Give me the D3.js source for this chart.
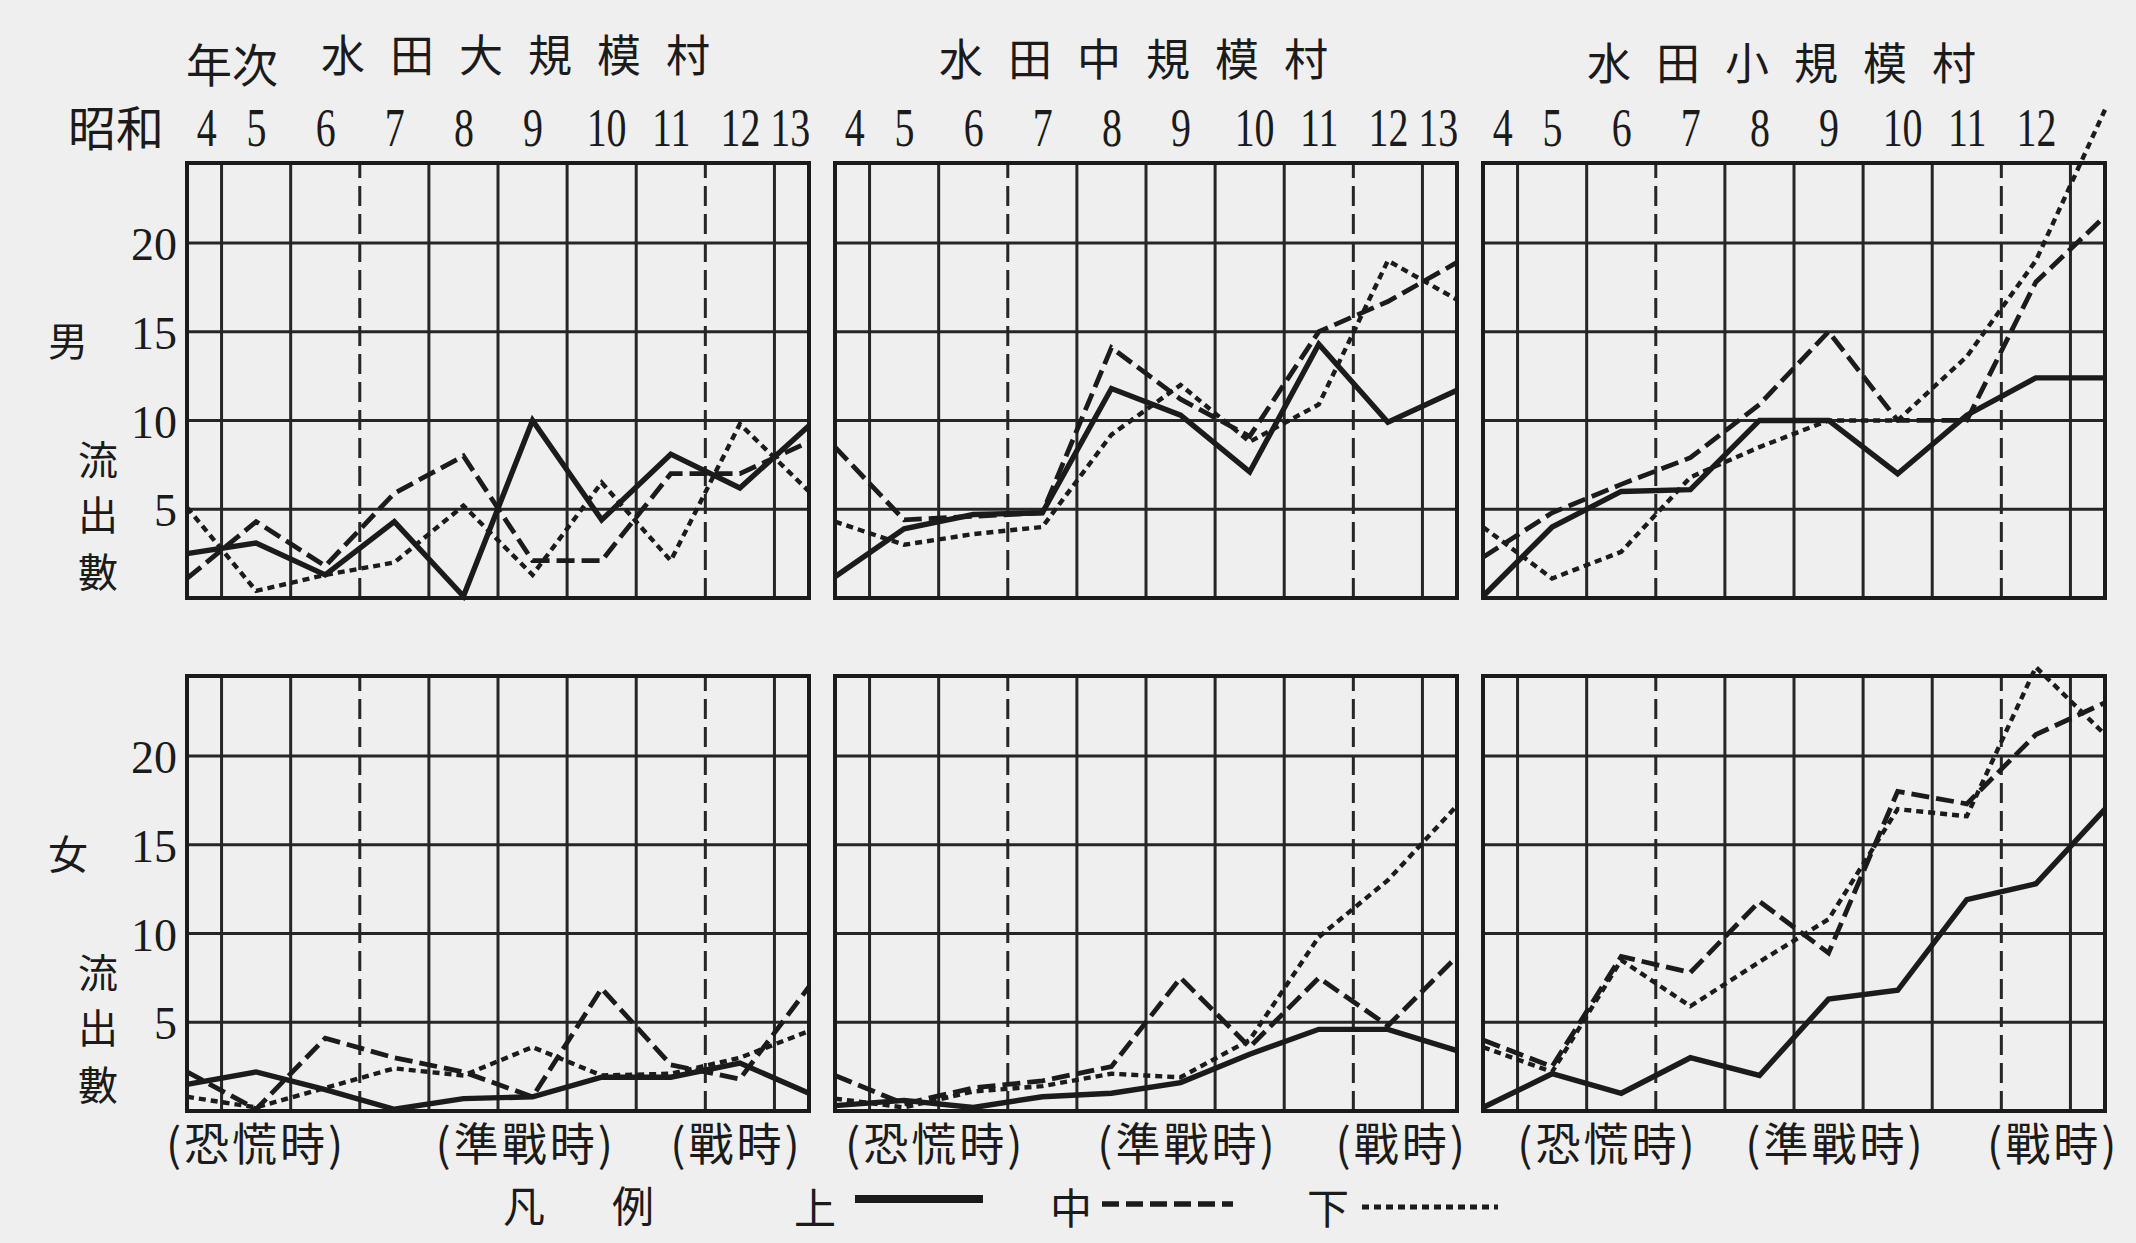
<!DOCTYPE html>
<html>
<head>
<meta charset="utf-8">
<script src="https://cdn.jsdelivr.net/npm/d3@7"></script>
<style>
  html, body { margin: 0; padding: 0; background: #efefef; }
  svg { display: block; }
</style>
</head>
<body>
<svg id="chart" width="2136" height="1243"></svg>
<script>
// ---- data -------------------------------------------------------------
const years = [4, 5, 6, 7, 8, 9, 10, 11, 12, 13];
const yearLabels = ['4', '5', '6', '7', '8', '9', '10', '11', '12', '13'];
const villageTitles = ['水田大規模村', '水田中規模村', '水田小規模村'];
const periodLabels = ['(恐慌時)', '(準戰時)', '(戰時)'];
const classNames = ['上', '中', '下'];
const yTicks = [5, 10, 15, 20];
const rowLabels = ['男', '女'];
const unitLabel = ['流', '出', '數'];

// 男 流出數
const maleLargeUpper  = [2.5, 3.1, 1.3, 4.3, 0.1, 10.0, 4.4, 8.1, 6.2, 9.7];
const maleLargeMiddle = [1.1, 4.3, 1.8, 5.9, 8.0, 2.1, 2.1, 7.0, 7.0, 8.8];
const maleLargeLower  = [5.1, 0.4, 1.3, 2.0, 5.2, 1.3, 6.5, 2.1, 9.8, 6.0];

const maleMidUpper    = [1.2, 3.9, 4.7, 4.8, 11.8, 10.3, 7.1, 14.3, 9.9, 11.7];
const maleMidMiddle   = [8.5, 4.4, 4.6, 4.8, 14.1, 11.2, 9.1, 15.0, 16.7, 18.9];
const maleMidLower    = [4.3, 3.0, 3.6, 4.0, 9.2, 12.0, 8.8, 10.9, 19.0, 16.8];

const maleSmallUpper  = [0.1, 4.0, 6.0, 6.1, 10.0, 10.0, 7.0, 10.3, 12.4, 12.4];
const maleSmallMiddle = [2.3, 4.8, 6.4, 7.9, 10.9, 15.0, 10.0, 10.0, 17.8, 21.5];
const maleSmallLower  = [4.0, 1.1, 2.6, 6.8, 8.5, 10.0, 10.0, 13.6, 19.0, 27.5];

// 女 流出數
const femaleLargeUpper  = [1.5, 2.2, 1.2, 0.1, 0.7, 0.8, 1.9, 1.9, 2.7, 1.0];
const femaleLargeMiddle = [2.2, 0.1, 4.1, 3.0, 2.2, 0.8, 6.9, 2.6, 1.8, 7.0];
const femaleLargeLower  = [0.8, 0.2, 1.3, 2.4, 2.0, 3.6, 2.0, 2.1, 3.0, 4.5];

const femaleMidUpper    = [0.3, 0.6, 0.2, 0.8, 1.0, 1.6, 3.2, 4.6, 4.6, 3.4];
const femaleMidMiddle   = [2.0, 0.4, 1.3, 1.7, 2.5, 7.5, 3.6, 7.5, 4.8, 8.7];
const femaleMidLower    = [0.7, 0.2, 1.1, 1.4, 2.1, 1.9, 4.0, 9.8, 13.0, 17.2];

const femaleSmallUpper  = [0.2, 2.1, 1.0, 3.0, 2.0, 6.3, 6.8, 11.9, 12.8, 17.0];
const femaleSmallMiddle = [4.0, 2.5, 8.7, 7.8, 11.8, 8.9, 18.0, 17.3, 21.2, 23.0];
const femaleSmallLower  = [3.6, 2.2, 8.5, 5.9, 8.4, 10.8, 17.0, 16.6, 25.0, 21.2];

// ---- layout ------------------------------------------------------------
const INK = '#1b1b1b';
const CJK = '"Noto Sans CJK JP", "Noto Sans CJK TC", sans-serif';
const SERIF = '"Liberation Serif", "DejaVu Serif", serif';

const colX = [187, 835, 1483];
const panelW = 622;
const rowTop = [163, 676];
const panelH = 435;
const yMax = 24.5;

// where the period captions sit (in year units) under each column
const periodCentres = [[5.0, 8.9, 11.95], [5.45, 9.1, 12.2], [5.8, 9.1, 12.25]];

const panels = [
  { row: 0, col: 0, series: [maleLargeUpper, maleLargeMiddle, maleLargeLower] },
  { row: 0, col: 1, series: [maleMidUpper, maleMidMiddle, maleMidLower] },
  { row: 0, col: 2, series: [maleSmallUpper, maleSmallMiddle, maleSmallLower] },
  { row: 1, col: 0, series: [femaleLargeUpper, femaleLargeMiddle, femaleLargeLower] },
  { row: 1, col: 1, series: [femaleMidUpper, femaleMidMiddle, femaleMidLower] },
  { row: 1, col: 2, series: [femaleSmallUpper, femaleSmallMiddle, femaleSmallLower] }
];

// line styles for 上 / 中 / 下
const styles = [
  { width: 5.4, dash: null },
  { width: 4.8, dash: '18,7' },
  { width: 4.4, dash: '7,5' }
];

const svg = d3.select('#chart');
svg.append('rect').attr('width', 2136).attr('height', 1243).attr('fill', '#efefef');

panels.forEach(p => {
  const x0 = colX[p.col];
  const top = rowTop[p.row];
  const x = d3.scaleLinear().domain([4, 13]).range([x0, x0 + panelW]);
  const y = d3.scaleLinear().domain([0, yMax]).range([top + panelH, top]);
  const g = svg.append('g');

  // horizontal grid
  g.selectAll('line.h').data(yTicks).join('line')
    .attr('x1', x(4)).attr('x2', x(13))
    .attr('y1', d => y(d)).attr('y2', d => y(d))
    .attr('stroke', '#262626').attr('stroke-width', 3);

  // vertical grid between years; dashed lines mark the period boundaries
  const halves = d3.range(4.5, 13, 1);
  g.selectAll('line.v').data(halves).join('line')
    .attr('x1', d => x(d)).attr('x2', d => x(d))
    .attr('y1', y(0)).attr('y2', y(yMax))
    .attr('stroke', '#262626').attr('stroke-width', 3)
    .attr('stroke-dasharray', d => (d === 6.5 || d === 11.5) ? '20,8' : null);

  // frame
  g.append('rect')
    .attr('x', x(4)).attr('y', y(yMax))
    .attr('width', x(13) - x(4)).attr('height', y(0) - y(yMax))
    .attr('fill', 'none').attr('stroke', INK).attr('stroke-width', 4);

  // series
  const line = d3.line().x((d, i) => x(years[i])).y(d => y(d));
  p.series.forEach((vals, k) => {
    g.append('path').datum(vals)
      .attr('d', line)
      .attr('fill', 'none')
      .attr('stroke', INK)
      .attr('stroke-width', styles[k].width)
      .attr('stroke-linejoin', 'miter')
      .attr('stroke-dasharray', styles[k].dash);
  });

  // year labels along the top row
  if (p.row === 0) {
    const shown = p.col === 2 ? years.slice(0, 9) : years;
    const axis = d3.axisTop(x).tickValues(shown)
      .tickFormat(d => yearLabels[years.indexOf(d)])
      .tickSize(0).tickPadding(0);
    const ax = svg.append('g').attr('transform', `translate(0,${top - 17})`).call(axis);
    ax.select('.domain').remove();
    ax.selectAll('text')
      .attr('font-family', SERIF).attr('font-size', 54).attr('fill', INK)
      .attr('transform', 'scale(0.74,1)')
      .attr('x', d => d === 4 ? 26 : (d === 13 ? -26 : (d === 10 ? 6 : 0)));
  }

  // period captions beneath the bottom row
  if (p.row === 1) {
    g.selectAll('text.period').data(periodLabels).join('text')
      .attr('x', (d, i) => x(periodCentres[p.col][i]))
      .attr('y', y(0) + 50)
      .attr('text-anchor', 'middle')
      .attr('font-family', CJK).attr('font-size', 45)
      .attr('letter-spacing', 3)
      .attr('fill', INK)
      .text(d => d);
  }

  // village title
  if (p.row === 0) {
    svg.append('text')
      .attr('x', x0 + panelW / 2 + (p.col === 0 ? 30 : 0))
      .attr('y', 72 + p.col * 4)
      .attr('text-anchor', 'middle')
      .attr('font-family', CJK).attr('font-size', 44)
      .attr('letter-spacing', 25)
      .attr('fill', INK)
      .text(villageTitles[p.col]);
  }

  // y axis labels on the left-hand panels
  if (p.col === 0) {
    const axis = d3.axisLeft(y).tickValues(yTicks).tickSize(0).tickPadding(10);
    const ay = svg.append('g').attr('transform', `translate(${x0},0)`).call(axis);
    ay.select('.domain').remove();
    ay.selectAll('text')
      .attr('font-family', SERIF).attr('font-size', 46).attr('fill', INK)
      .attr('dy', '0.36em');

    svg.append('text')
      .attr('x', 68).attr('y', y(14.6))
      .attr('text-anchor', 'middle').attr('dominant-baseline', 'central')
      .attr('font-family', CJK).attr('font-size', 40).attr('fill', INK)
      .text(rowLabels[p.row]);

    svg.selectAll(null).data(unitLabel).join('text')
      .attr('x', 98)
      .attr('y', (d, i) => y([7.9, 4.8, 1.6][i]))
      .attr('text-anchor', 'middle').attr('dominant-baseline', 'central')
      .attr('font-family', CJK).attr('font-size', 40).attr('fill', INK)
      .text(d => d);
  }
});

// header labels
svg.append('text').attr('x', 232).attr('y', 82)
  .attr('text-anchor', 'middle')
  .attr('font-family', CJK).attr('font-size', 46).attr('fill', INK)
  .text('年次');
svg.append('text').attr('x', 116).attr('y', 146)
  .attr('text-anchor', 'middle')
  .attr('font-family', CJK).attr('font-size', 48).attr('fill', INK)
  .text('昭和');

// legend
const legend = svg.append('g');
legend.append('text').attr('x', 524).attr('y', 1222)
  .attr('text-anchor', 'middle').attr('font-family', CJK).attr('font-size', 42).attr('fill', INK)
  .text('凡');
legend.append('text').attr('x', 633).attr('y', 1222)
  .attr('text-anchor', 'middle').attr('font-family', CJK).attr('font-size', 42).attr('fill', INK)
  .text('例');

const legendItems = [
  { label: classNames[0], tx: 815, x1: 855, x2: 983, y: 1199, w: 8, dash: null },
  { label: classNames[1], tx: 1071, x1: 1102, x2: 1233, y: 1204, w: 5.5, dash: '17,7' },
  { label: classNames[2], tx: 1328, x1: 1362, x2: 1498, y: 1207, w: 5, dash: '7,5' }
];
legendItems.forEach(it => {
  legend.append('text').attr('x', it.tx).attr('y', 1224)
    .attr('text-anchor', 'middle').attr('font-family', CJK).attr('font-size', 42).attr('fill', INK)
    .text(it.label);
  legend.append('line')
    .attr('x1', it.x1).attr('x2', it.x2).attr('y1', it.y).attr('y2', it.y)
    .attr('stroke', INK).attr('stroke-width', it.w)
    .attr('stroke-dasharray', it.dash);
});
</script>
</body>
</html>
